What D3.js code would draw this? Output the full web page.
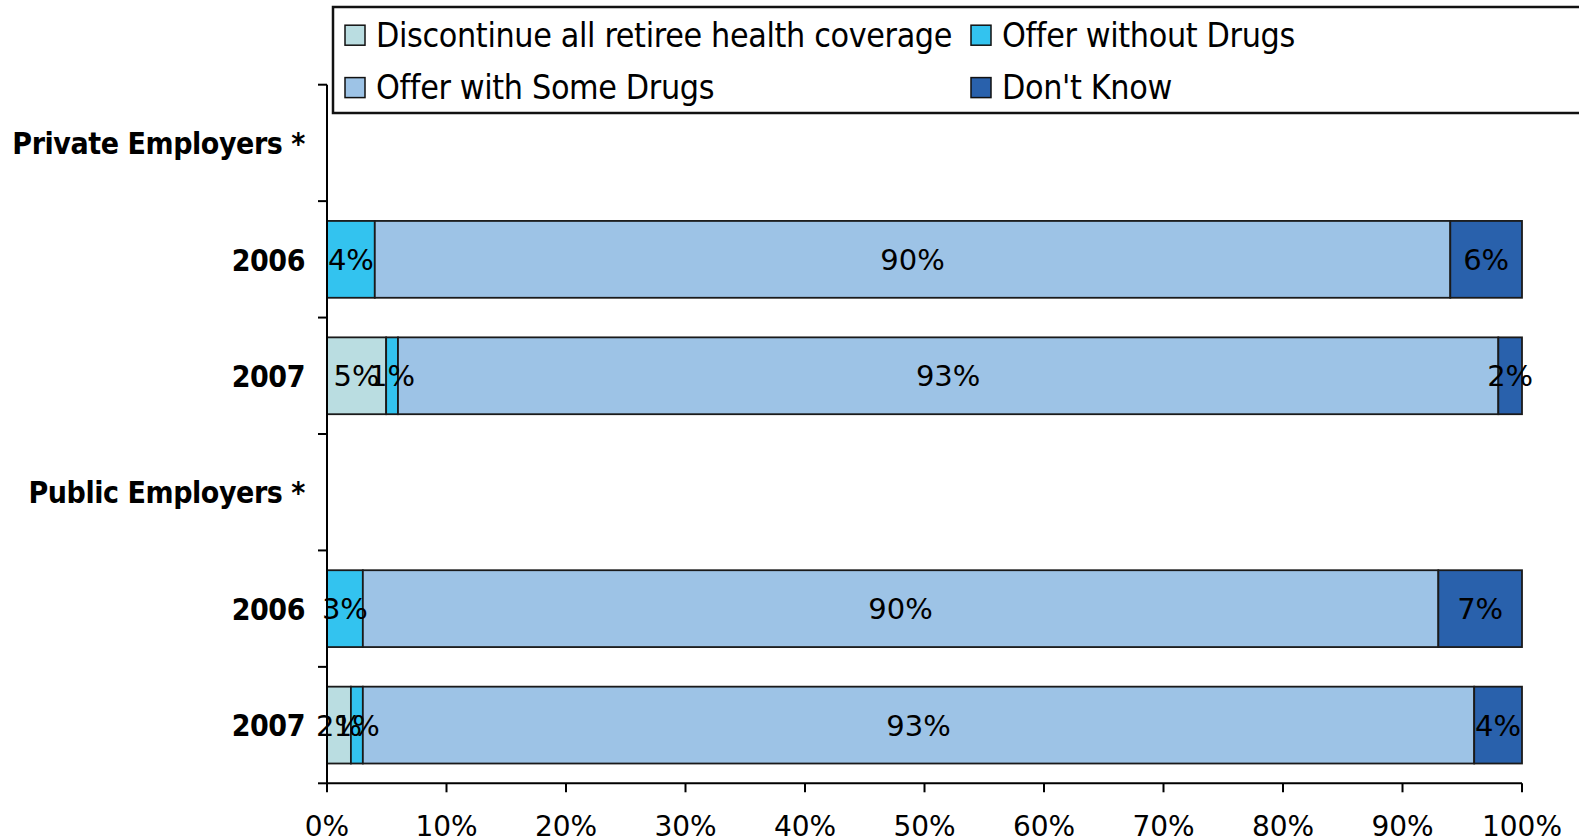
<!DOCTYPE html>
<html>
<head>
<meta charset="utf-8">
<script src="https://cdn.jsdelivr.net/npm/d3@7"></script>
<style>
  html, body { margin: 0; padding: 0; background: #fff; }
  svg { display: block; }
  text { font-family: "DejaVu Sans", Verdana, sans-serif; fill: #000; }
</style>
</head>
<body>
<svg id="chart" width="1579" height="840"></svg>
<script>
// ---- data ----
const categories = ["Private Employers *", "2006 ", "2007 ", "Public Employers *", "2006", "2007"];
const rowLabels = ["Private Employers *", "2006", "2007", "Public Employers *", "2006", "2007"];
const seriesNames = ["Discontinue all retiree health coverage", "Offer without Drugs", "Offer with Some Drugs", "Don't Know"];
const discontinue = [null, 0, 5, null, 0, 2];
const offerWithout = [null, 4, 1, null, 3, 1];
const offerSome = [null, 90, 93, null, 90, 93];
const dontKnow = [null, 6, 2, null, 7, 4];
const xTicks = [0, 0.1, 0.2, 0.3, 0.4, 0.5, 0.6, 0.7, 0.8, 0.9, 1.0];
const colors = ["#BADDE1", "#33C3EF", "#9DC3E6", "#2961AC"];

(function () {
const seriesValues = [discontinue, offerWithout, offerSome, dontKnow];
const rows = categories.map((c, i) => {
  const o = { cat: c };
  seriesNames.forEach((s, j) => o[s] = seriesValues[j][i] == null ? 0 : seriesValues[j][i]);
  o.empty = seriesValues.every(a => a[i] == null);
  return o;
});

const svg = d3.select("#chart");
const pLeft = 327, pRight = 1522, pTop = 84.7, pBottom = 783.3;

const x = d3.scaleLinear().domain([0, 1]).range([pLeft, pRight]);
const y = d3.scaleBand().domain(categories).range([pTop, pBottom]).paddingInner(0.34).paddingOuter(0.17);

const stack = d3.stack().keys(seriesNames).offset(d3.stackOffsetExpand);
const stacked = stack(rows.filter(r => !r.empty));

// bars
const g = svg.append("g");
stacked.forEach((layer, j) => {
  g.selectAll(null).data(layer).enter().append("rect")
    .attr("x", d => x(d[0]))
    .attr("y", d => y(d.data.cat))
    .attr("width", d => x(d[1]) - x(d[0]))
    .attr("height", y.bandwidth())
    .attr("fill", colors[j])
    .attr("stroke", "#1a1a1a")
    .attr("stroke-width", 1.8);
});
// labels
stacked.forEach((layer, j) => {
  g.selectAll(null).data(layer.filter(d => d.data[seriesNames[j]] > 0)).enter().append("text")
    .attr("x", d => (x(d[0]) + x(d[1])) / 2)
    .attr("y", d => y(d.data.cat) + y.bandwidth() / 2)
    .attr("dy", "0.36em")
    .attr("text-anchor", "middle")
    .style("font-size", "29px")
    .text(d => d.data[seriesNames[j]] + "%");
});

// y axis
const step = y.step();
const yAxis = svg.append("g");
yAxis.append("line").attr("x1", pLeft).attr("x2", pLeft).attr("y1", pTop).attr("y2", pBottom)
  .attr("stroke", "#000").attr("stroke-width", 2);
d3.range(categories.length + 1).forEach(i => {
  yAxis.append("line").attr("x1", pLeft - 9).attr("x2", pLeft)
    .attr("y1", pTop + i * step).attr("y2", pTop + i * step)
    .attr("stroke", "#000").attr("stroke-width", 2);
});
categories.forEach((c, i) => {
  yAxis.append("text")
    .attr("transform", `translate(305,${y(c) + y.bandwidth() / 2}) scale(0.87,1)`)
    .attr("dy", "0.36em")
    .attr("text-anchor", "end")
    .style("font-size", "31px")
    .style("font-weight", "bold")
    .style("letter-spacing", "-0.5px")
    .text(rowLabels[i]);
});

// x axis
const xAxis = svg.append("g");
xAxis.append("line").attr("x1", pLeft).attr("x2", pRight).attr("y1", pBottom).attr("y2", pBottom)
  .attr("stroke", "#000").attr("stroke-width", 2);
xTicks.forEach(t => {
  xAxis.append("line").attr("x1", x(t)).attr("x2", x(t)).attr("y1", pBottom).attr("y2", pBottom + 9)
    .attr("stroke", "#000").attr("stroke-width", 2);
  xAxis.append("text").attr("x", x(t)).attr("y", 836)
    .attr("text-anchor", "middle").style("font-size", "28px")
    .text(d3.format(".0%")(t));
});

// legend
const lg = svg.append("g");
lg.append("rect").attr("x", 333).attr("y", 7).attr("width", 1260).attr("height", 106)
  .attr("fill", "#fff").attr("stroke", "#111").attr("stroke-width", 2.5);
const legendPos = [[345, 35.2], [971, 35.2], [345, 87.6], [971, 87.6]];
seriesNames.forEach((s, j) => {
  const [lx, ly] = legendPos[j];
  lg.append("rect").attr("x", lx).attr("y", ly - 10).attr("width", 20).attr("height", 20)
    .attr("fill", colors[j]).attr("stroke", "#111").attr("stroke-width", 1.5);
  lg.append("text")
    .attr("transform", `translate(${lx + 31},${ly}) scale(0.92,1)`)
    .attr("dy", "0.36em")
    .style("font-size", "33px").style("letter-spacing", "-0.4px")
    .text(s);
});
})();
</script>
</body>
</html>
